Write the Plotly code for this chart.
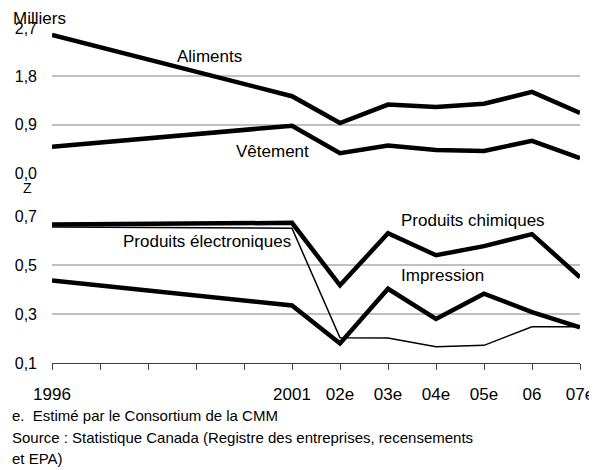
import plotly.graph_objects as go

years = [1996, 2001, 2002, 2003, 2004, 2005, 2006, 2007]
tick_years = list(range(1996, 2008))
tick_labels = ["1996", "", "", "", "", "2001", "02e", "03e", "04e", "05e", "06", "07e"]

aliments = [2.57, 1.43, 0.93, 1.275, 1.23, 1.29, 1.51, 1.12]
vetement = [0.49, 0.88, 0.37, 0.51, 0.43, 0.41, 0.60, 0.275]

chimiques = [0.665, 0.672, 0.417, 0.630, 0.540, 0.577, 0.626, 0.450]
electroniques = [0.655, 0.650, 0.203, 0.202, 0.166, 0.172, 0.248, 0.248]
impression = [0.437, 0.335, 0.180, 0.403, 0.280, 0.383, 0.308, 0.245]

top_ticks = [0.0, 0.9, 1.8, 2.7]
bot_ticks = [0.1, 0.3, 0.5, 0.7]

FONT = "Liberation Sans, Arial, sans-serif"
OFF = 8  # page body margin
W, H = 597 - OFF, 470 - OFF
ml, mr, mt, mb = 52 - OFF, 17, 28 - OFF, 470 - 363
ph = H - mt - mb
pw = W - ml - mr


def py(p):
    return (H - mb - (p - OFF)) / ph


def px(p):
    return (p - OFF - ml) / pw


fig = go.Figure()
thick = dict(color="black", width=4.5)
thin = dict(color="black", width=1.5)

fig.add_trace(go.Scatter(x=years, y=aliments, mode="lines", line=thick, xaxis="x2", yaxis="y2", name="Aliments"))
fig.add_trace(go.Scatter(x=years, y=vetement, mode="lines", line=thick, xaxis="x2", yaxis="y2", name="Vêtement"))
fig.add_trace(go.Scatter(x=years, y=electroniques, mode="lines", line=thin, name="Produits électroniques"))
fig.add_trace(go.Scatter(x=years, y=chimiques, mode="lines", line=thick, name="Produits chimiques"))
fig.add_trace(go.Scatter(x=years, y=impression, mode="lines", line=thick, name="Impression"))

grid = dict(showgrid=True, gridcolor="#c0c0c0", gridwidth=2, zeroline=False, showline=False,
            ticks="", ticklen=0, ticklabelstandoff=14, automargin=False,
            tickfont=dict(size=16, color="black", family=FONT))

fig.update_layout(
    width=W, height=H,
    margin=dict(l=ml, r=mr, t=mt, b=mb, autoexpand=False),
    paper_bgcolor="white", plot_bgcolor="white",
    showlegend=False,
    separators=", ",
    font=dict(family=FONT, size=17, color="black"),
    xaxis=dict(domain=[0, 1], range=[1996, 2007], anchor="y", automargin=False,
               tickmode="array", tickvals=tick_years, ticktext=tick_labels,
               ticks="outside", ticklen=6, tickcolor="#404040", tickwidth=1,
               showline=True, linecolor="#404040", linewidth=1,
               showgrid=False, zeroline=False, ticklabelstandoff=10,
               tickfont=dict(size=17, color="black", family=FONT)),
    xaxis2=dict(domain=[0, 1], range=[1996, 2007], anchor="y2", matches="x", automargin=False,
                showticklabels=False, showgrid=False, zeroline=False, ticks="", showline=False),
    yaxis=dict(domain=[0, py(216)], range=[0.1, 0.7], anchor="x",
               tickmode="array", tickvals=bot_ticks, tickformat=".1f", **grid),
    yaxis2=dict(domain=[py(173), 1], range=[0, 2.7], anchor="x2",
                tickmode="array", tickvals=top_ticks, tickformat=".1f", **grid),
)

labels = [
    ("Aliments", 1999.29, 2.175, "x2", "y2"),
    ("Vêtement", 2000.6, 0.394, "x2", "y2"),
    ("Produits électroniques", 1999.22, 0.594, "x", "y"),
    ("Produits chimiques", 2004.77, 0.68, "x", "y"),
    ("Impression", 2004.125, 0.458, "x", "y"),
]
for txt, x, y, xr, yr in labels:
    fig.add_annotation(text=txt, x=x, y=y, xref=xr, yref=yr, showarrow=False,
                       font=dict(size=17, color="black", family=FONT))

fig.add_annotation(text="Milliers", x=px(12), y=py(8), xref="paper", yref="paper",
                   xanchor="left", yanchor="top", showarrow=False, borderpad=0,
                   font=dict(size=17, color="black", family=FONT))
fig.add_annotation(text="Z", x=px(27.5), y=py(188), xref="paper", yref="paper",
                   xanchor="center", yanchor="middle", showarrow=False,
                   font=dict(size=14, color="black", family=FONT))

notes = [
    ("e.\u00a0\u00a0Estimé par le Consortium de la CMM", 415),
    ("Source : Statistique Canada (Registre des entreprises, recensements", 437),
    ("et EPA)", 458),
]
for txt, yy in notes:
    fig.add_annotation(text=txt, x=px(10), y=py(yy), xref="paper", yref="paper",
                       xanchor="left", yanchor="middle", showarrow=False,
                       font=dict(size=15, color="black", family=FONT))

fig.write_html("out.html")
